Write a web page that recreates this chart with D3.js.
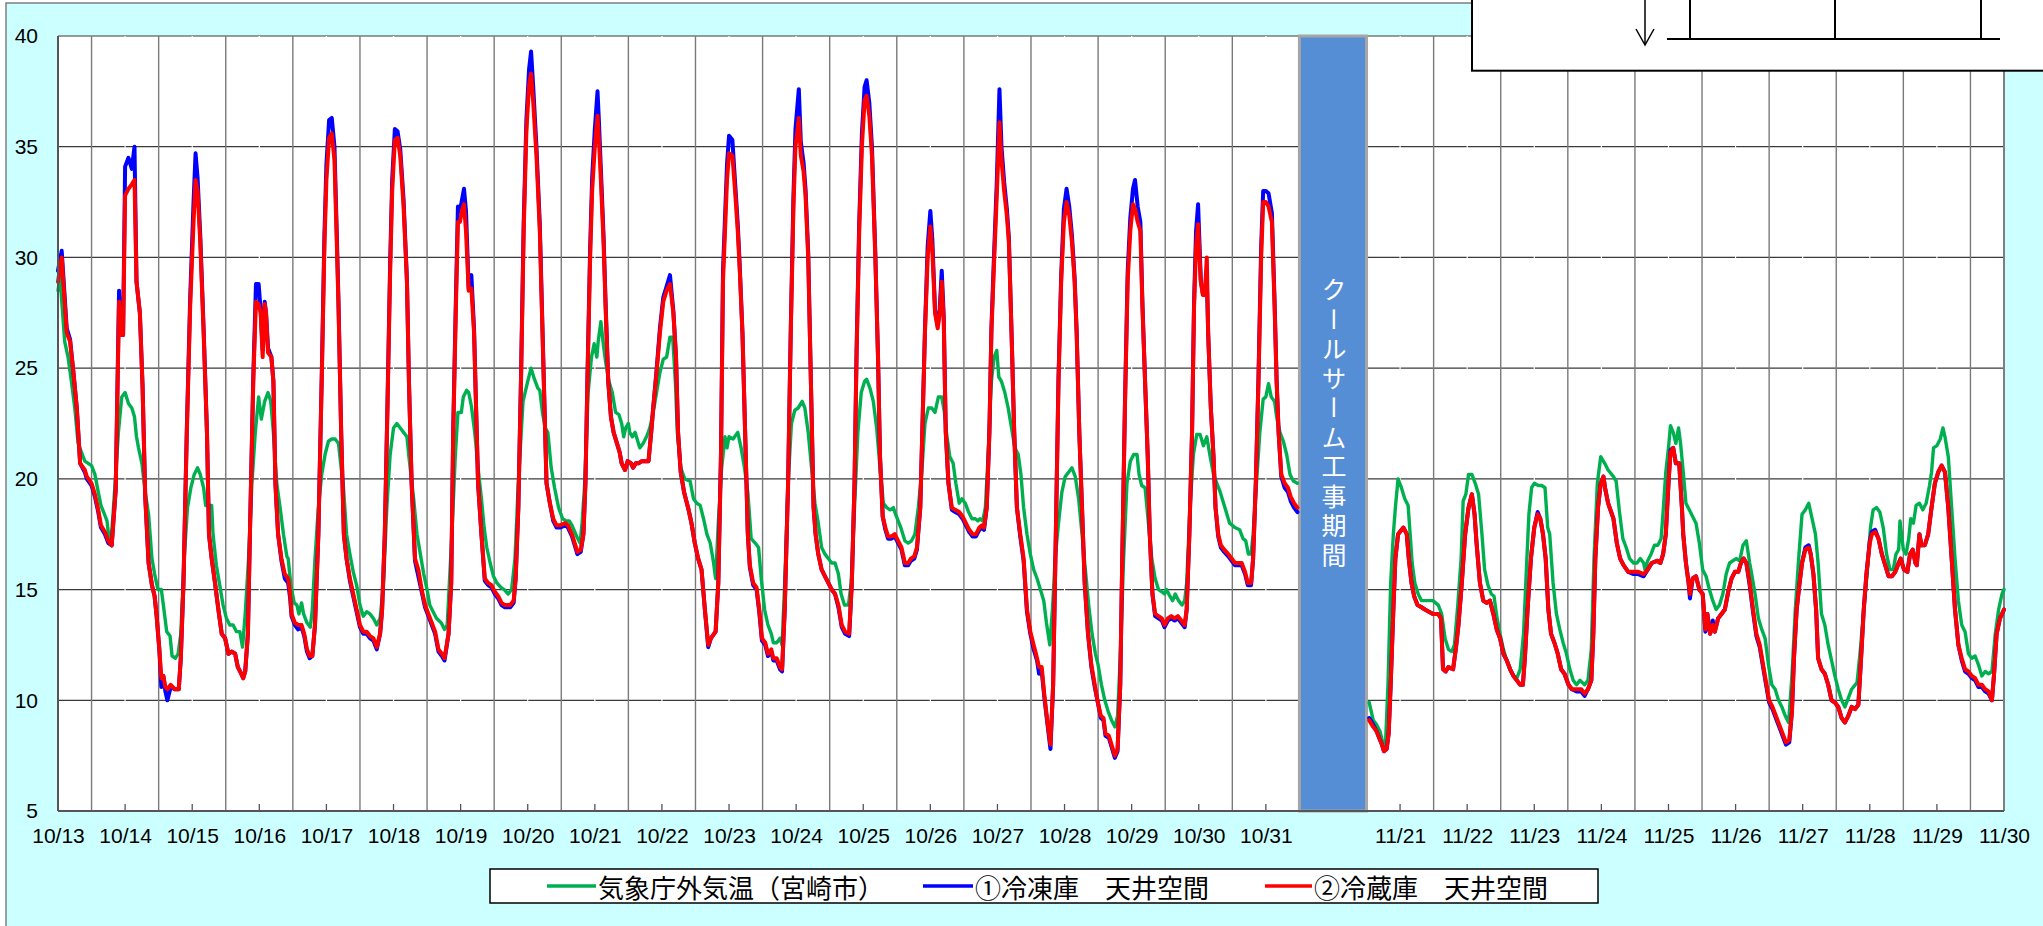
<!DOCTYPE html>
<html><head><meta charset="utf-8">
<script src="https://cdn.jsdelivr.net/npm/d3@7/dist/d3.min.js"></script>
<style>body{margin:0;background:#fff}svg{display:block}</style>
</head><body>
<svg id="chart" width="2043" height="926"></svg>
<script>
// ---- data ----
// axis slots: 0..18 = 10/13..10/31, slot 19 = construction gap, 20..29 = 11/21..11/30
const dateLabels = ["10/13","10/14","10/15","10/16","10/17","10/18","10/19","10/20","10/21","10/22","10/23","10/24","10/25","10/26","10/27","10/28","10/29","10/30","10/31","","11/21","11/22","11/23","11/24","11/25","11/26","11/27","11/28","11/29","11/30"];
const gapSlot = 19;
const gapLabel = "クールサーム工事期間";
const yTicks = [5,10,15,20,25,30,35,40];
const seriesNames = ["気象庁外気温（宮崎市）","①冷凍庫　天井空間","②冷蔵庫　天井空間"];
const seriesColors = ["#00B050","#0000FF","#FF0000"];

// outdoor temperature: [slot position, °C]
const outdoorTemp = [
[0.00,28.5],[0.03,29.1],[0.10,26.2],[0.15,25.5],[0.20,24.4],[0.25,23.2],[0.30,21.6],[0.35,21.2],[0.40,20.8],[0.45,20.7],[0.50,20.6],[0.55,20.2],[0.60,19.4],[0.64,18.8],[0.68,18.5],[0.73,18.1],[0.76,17.3],[0.79,17.2],[0.82,18.4],[0.86,20.2],[0.90,22.1],[0.95,23.7],[1.00,23.9],[1.05,23.4],[1.10,23.2],[1.14,22.8],[1.17,21.9],[1.20,21.4],[1.25,20.7],[1.30,19.4],[1.35,18.4],[1.40,16.4],[1.44,15.7],[1.49,15.0],[1.54,15.0],[1.57,14.3],[1.62,13.1],[1.67,12.9],[1.70,12.0],[1.75,11.9],[1.79,12.1],[1.83,13.0],[1.88,16.4],[1.93,18.7],[1.98,19.6],[2.03,20.2],[2.08,20.5],[2.12,20.2],[2.17,19.6],[2.20,18.8],[2.25,18.8],[2.29,18.8],[2.31,17.5],[2.36,16.1],[2.41,15.2],[2.46,14.3],[2.51,13.7],[2.56,13.4],[2.61,13.4],[2.66,13.1],[2.71,13.1],[2.75,12.4],[2.79,13.9],[2.84,16.4],[2.89,19.8],[2.94,22.1],[2.99,23.7],[3.03,22.7],[3.08,23.5],[3.13,23.9],[3.17,23.5],[3.21,22.1],[3.26,19.8],[3.31,18.7],[3.36,17.5],[3.41,16.5],[3.43,16.4],[3.47,15.2],[3.52,14.4],[3.56,14.3],[3.59,13.9],[3.63,14.4],[3.66,13.9],[3.71,13.5],[3.76,13.3],[3.79,14.1],[3.83,16.4],[3.88,18.7],[3.93,20.2],[3.98,21.1],[4.03,21.7],[4.08,21.8],[4.13,21.8],[4.18,21.6],[4.22,20.5],[4.25,19.8],[4.30,17.5],[4.35,16.6],[4.40,15.8],[4.45,15.2],[4.50,14.3],[4.55,13.8],[4.60,14.0],[4.65,13.9],[4.70,13.7],[4.75,13.4],[4.80,13.7],[4.85,15.2],[4.90,18.7],[4.95,21.1],[5.00,22.3],[5.05,22.5],[5.10,22.3],[5.15,22.1],[5.20,21.9],[5.23,21.0],[5.30,19.1],[5.35,17.5],[5.40,16.6],[5.45,15.7],[5.50,15.0],[5.54,14.3],[5.59,14.0],[5.64,13.7],[5.71,13.5],[5.76,13.2],
[5.80,13.4],[5.87,17.5],[5.92,21.0],[5.96,23.0],[6.01,23.0],[6.04,23.7],[6.09,24.0],[6.12,23.9],[6.16,23.3],[6.21,22.1],[6.26,20.5],[6.31,19.1],[6.35,17.8],[6.39,16.9],[6.44,16.2],[6.49,15.6],[6.54,15.3],[6.60,15.1],[6.65,15.0],[6.71,14.8],[6.76,15.0],[6.81,16.4],[6.86,19.8],[6.93,23.5],[7.00,24.4],[7.05,25.0],[7.10,24.5],[7.15,24.1],[7.18,24.0],[7.22,23.0],[7.26,22.3],[7.30,22.1],[7.35,20.5],[7.40,19.6],[7.46,18.7],[7.52,18.2],[7.57,18.1],[7.62,18.1],[7.66,17.9],[7.73,17.4],[7.78,17.1],[7.81,18.0],[7.85,19.8],[7.90,23.9],[7.95,25.5],[7.99,26.1],[8.03,25.5],[8.05,26.2],[8.09,27.1],[8.13,26.0],[8.16,25.3],[8.21,24.4],[8.26,23.9],[8.31,23.0],[8.36,22.9],[8.40,22.5],[8.43,21.9],[8.46,22.3],[8.50,22.5],[8.52,22.1],[8.56,21.9],[8.60,22.1],[8.64,21.7],[8.67,21.4],[8.72,21.6],[8.77,21.9],[8.82,22.3],[8.87,23.0],[8.92,23.9],[8.97,24.8],[9.02,25.4],[9.07,25.5],[9.12,26.4],[9.16,26.4],[9.20,24.4],[9.23,22.1],[9.28,20.5],[9.34,20.0],[9.42,19.9],[9.47,19.1],[9.52,18.9],[9.57,18.8],[9.62,18.2],[9.67,17.5],[9.72,17.1],[9.77,16.2],[9.80,15.5],[9.84,18.0],[9.89,20.5],[9.94,21.9],[9.97,21.4],[10.00,21.9],[10.06,21.8],[10.13,22.1],[10.18,21.4],[10.23,20.5],[10.28,19.4],[10.33,17.3],[10.39,17.1],[10.44,16.9],[10.48,15.5],[10.53,14.1],[10.58,13.4],[10.63,13.0],[10.66,12.6],[10.71,12.6],[10.76,12.8],[10.79,12.5],[10.83,15.3],[10.88,19.8],[10.93,22.5],[10.98,23.1],[11.03,23.2],[11.09,23.5],[11.13,23.2],[11.18,22.1],[11.23,20.5],[11.28,18.9],[11.33,18.0],[11.38,16.9],[11.43,16.6],[11.48,16.4],[11.53,16.2],
[11.58,16.2],[11.63,15.7],[11.67,14.8],[11.72,14.3],[11.78,14.3],[11.82,15.3],[11.87,18.7],[11.92,22.1],[11.97,23.9],[12.02,24.4],[12.05,24.5],[12.10,24.1],[12.15,23.5],[12.20,22.3],[12.25,20.5],[12.30,18.9],[12.35,18.7],[12.40,18.6],[12.45,18.7],[12.47,18.5],[12.52,18.1],[12.56,17.8],[12.62,17.2],[12.67,17.1],[12.72,17.2],[12.77,17.5],[12.82,18.7],[12.87,20.2],[12.92,22.5],[12.97,23.2],[13.02,23.2],[13.07,23.0],[13.12,23.7],[13.17,23.7],[13.21,23.0],[13.24,22.1],[13.29,21.0],[13.34,20.7],[13.38,19.8],[13.43,18.9],[13.47,19.1],[13.52,18.9],[13.57,18.5],[13.62,18.2],[13.67,18.2],[13.71,18.1],[13.74,18.2],[13.78,18.1],[13.82,18.7],[13.86,21.0],[13.91,24.4],[13.95,25.5],[13.99,25.8],[14.02,24.6],[14.06,24.4],[14.11,23.9],[14.16,23.2],[14.21,22.3],[14.26,21.4],[14.31,21.1],[14.35,20.2],[14.39,18.7],[14.44,17.5],[14.49,16.6],[14.54,15.9],[14.59,15.5],[14.64,15.0],[14.69,14.5],[14.73,13.5],[14.78,12.5],[14.82,14.1],[14.86,16.4],[14.91,18.0],[14.96,19.4],[15.01,20.1],[15.06,20.3],[15.11,20.5],[15.16,20.1],[15.21,19.1],[15.26,17.5],[15.31,15.9],[15.36,14.3],[15.41,13.0],[15.46,12.1],[15.50,11.6],[15.55,10.7],[15.60,10.0],[15.65,9.5],[15.70,9.1],[15.75,8.8],[15.79,9.3],[15.83,11.9],[15.88,16.4],[15.93,19.8],[15.98,20.8],[16.03,21.1],[16.08,21.1],[16.11,20.2],[16.15,19.7],[16.20,19.6],[16.25,18.0],[16.30,16.4],[16.35,15.5],[16.40,15.0],[16.45,14.9],[16.49,14.8],[16.52,15.0],[16.57,14.7],[16.61,14.5],[16.65,14.8],[16.70,14.5],[16.75,14.3],[16.79,14.5],[16.82,15.3],[16.87,18.7],[16.92,21.1],[16.97,22.0],[17.02,22.0],[17.07,21.5],[17.12,21.9],[17.17,21.0],[17.22,20.2],[17.27,19.8],[17.32,19.4],[17.37,18.9],
[17.46,18.0],[17.54,17.8],[17.61,17.7],[17.66,17.3],[17.70,17.2],[17.74,16.6],[17.78,16.6],[17.81,17.5],[17.86,19.8],[17.91,22.1],[17.96,23.6],[18.00,23.7],[18.04,24.3],[18.08,23.7],[18.13,23.5],[18.16,22.8],[18.21,22.1],[18.26,21.7],[18.31,21.1],[18.36,20.2],[18.41,19.9],[18.47,19.8],
[19.54,9.9],[19.60,9.1],[19.65,8.9],[19.70,8.6],[19.75,8.0],[19.78,7.8],[19.82,10.7],[19.86,15.3],[19.90,17.5],[19.93,18.7],[19.97,20.0],[20.02,19.6],[20.07,19.1],[20.12,18.8],[20.15,17.5],[20.18,16.2],[20.22,15.3],[20.27,14.8],[20.32,14.5],[20.40,14.5],[20.49,14.5],[20.57,14.3],[20.62,13.9],[20.67,12.8],[20.72,12.3],[20.77,12.2],[20.81,12.5],[20.86,14.3],[20.91,16.4],[20.94,19.0],[20.98,19.3],[21.02,20.2],[21.07,20.2],[21.12,19.8],[21.17,19.3],[21.22,17.5],[21.26,15.9],[21.31,15.2],[21.36,14.8],[21.40,14.7],[21.44,13.8],[21.49,13.0],[21.54,12.3],[21.59,11.8],[21.64,11.4],[21.69,11.1],[21.74,11.0],[21.79,11.4],[21.84,13.0],[21.89,16.4],[21.92,18.4],[21.96,19.6],[22.00,19.8],[22.06,19.7],[22.11,19.7],[22.16,19.6],[22.20,17.8],[22.23,17.5],[22.28,15.3],[22.33,13.9],[22.38,13.2],[22.43,12.6],[22.48,12.1],[22.53,11.4],[22.58,10.9],[22.63,10.7],[22.68,10.9],[22.75,10.7],[22.80,10.9],[22.85,12.3],[22.89,16.4],[22.94,19.8],[22.99,21.0],[23.05,20.7],[23.10,20.4],
[23.18,20.1],[23.22,19.9],[23.27,18.5],[23.32,17.3],[23.37,16.9],[23.42,16.4],[23.48,16.2],[23.53,16.2],[23.58,16.4],[23.63,16.2],[23.65,15.9],[23.69,16.3],[23.74,16.6],[23.79,17.0],[23.84,17.0],[23.89,17.3],[23.92,18.5],[23.96,20.3],[24.00,21.4],[24.03,22.4],[24.07,22.1],[24.11,21.6],[24.15,22.3],[24.18,21.6],[24.22,20.3],[24.26,18.9],[24.31,18.6],[24.36,18.3],[24.41,18.0],[24.46,17.1],[24.51,15.9],[24.56,15.6],[24.61,15.0],[24.66,14.5],[24.71,14.1],[24.76,14.3],[24.81,14.8],[24.86,15.7],[24.91,16.2],[24.96,16.3],[25.01,16.4],[25.06,16.3],[25.11,17.0],[25.16,17.2],[25.21,16.2],[25.24,15.7],[25.29,14.8],[25.34,13.7],[25.39,13.2],[25.44,12.8],[25.49,11.6],[25.54,10.7],[25.59,10.5],[25.64,10.0],[25.69,9.7],[25.74,9.3],[25.79,9.0],[25.84,11.1],[25.89,14.1],[25.94,16.4],[25.99,18.4],[26.04,18.6],[26.09,18.9],[26.14,18.2],[26.19,17.5],[26.23,16.2],[26.28,13.9],[26.33,13.4],[26.38,12.5],[26.43,11.8],[26.48,11.1],[26.53,10.5],[26.58,10.0],[26.63,9.7],[26.68,10.1],[26.73,10.5],[26.81,10.8],[26.86,12.3],[26.91,14.1],[26.96,15.7],[27.01,17.8],[27.05,18.6],[27.10,18.7],[27.15,18.5],[27.20,17.8],[27.25,16.6],[27.30,15.9],[27.35,15.9],[27.39,16.6],[27.43,16.8],[27.45,18.1],[27.50,16.8],[27.54,16.6],[27.58,17.3],[27.61,18.2],[27.65,18.0],[27.69,18.8],[27.74,18.9],[27.79,18.6],[27.84,18.9],[27.89,19.7],[27.92,20.3],[27.95,21.4],[28.00,21.5],[28.05,21.8],[28.09,22.3],[28.12,21.9],[28.17,21.0],[28.22,18.7],[28.27,16.4],[28.32,14.5],[28.37,13.4],[28.42,13.1],[28.47,12.1],[28.52,11.9],[28.57,12.0],[28.62,11.6],[28.67,11.1],[28.72,11.3],[28.77,11.2],[28.82,11.3],[28.87,13.0],[28.92,14.1],[28.97,14.8],[29.00,15.0]
];

// ceiling-space temperatures: [slot position, ①freezer °C, ②fridge °C]
const ceilingTemp = [
[0.00,29.4,28.9],[0.055,30.3,30.0],[0.13,26.8,26.6],[0.18,26.3,26.2],[0.23,24.8,24.8],[0.28,23.2,23.2],[0.33,20.7,20.7],[0.40,20.3,20.4],[0.43,20.0,20.1],[0.50,19.7,19.8],[0.55,19.2,19.3],[0.60,18.5,18.6],[0.64,17.8,17.9],[0.70,17.5,17.6],[0.75,17.1,17.2],[0.80,17.0,17.0],[0.86,19.5,19.5],[0.91,28.5,28.0],[0.94,26.5,26.5],[0.97,26.5,26.5],[1.00,34.1,32.8],[1.05,34.5,33.1],[1.10,34.0,33.3],[1.14,35.0,33.5],[1.17,28.9,28.9],[1.22,27.5,27.5],[1.26,24.2,24.2],[1.30,19.2,19.2],[1.35,16.2,16.2],[1.40,15.2,15.2],[1.44,14.7,14.7],[1.47,13.8,13.8],[1.51,12.3,12.3],[1.54,10.6,11.0],[1.57,11.1,11.1],[1.60,10.4,10.6],[1.63,10.0,10.5],[1.68,10.6,10.7],[1.74,10.5,10.5],[1.80,10.5,10.5],[1.83,11.9,11.9],[1.87,15.3,15.3],[1.92,22.3,22.1],[1.97,28.2,27.8],[2.02,32.5,31.6],[2.05,34.7,33.5],[2.08,33.6,33.0],[2.12,31.0,30.7],[2.17,26.8,26.6],[2.22,22.1,22.1],[2.25,17.5,17.5],[2.29,16.4,16.4],[2.34,15.3,15.3],[2.39,14.1,14.1],[2.44,13.0,13.0],[2.49,12.8,12.8],[2.54,12.1,12.1],[2.59,12.2,12.2],[2.64,12.1,12.1],[2.68,11.5,11.5],[2.73,11.2,11.2],[2.76,11.0,11.0],[2.79,11.3,11.3],[2.83,13.0,13.0],[2.86,17.5,17.5],[2.91,24.6,24.4],[2.95,28.8,28.0],[2.99,28.8,27.9],[3.02,27.6,27.5],[3.05,25.8,25.5],[3.08,28.0,27.9],[3.10,27.5,27.5],[3.13,25.9,25.7],[3.18,25.5,25.5],[3.21,24.4,24.4],[3.24,19.8,19.8],[3.28,17.5,17.5],[3.33,16.3,16.4],[3.38,15.5,15.7],[3.43,15.3,15.5],[3.46,14.6,14.8],[3.48,13.8,13.9],[3.53,13.4,13.5],[3.58,13.2,13.4],[3.63,13.3,13.4],[3.67,12.9,13.0],[3.71,12.2,12.3],[3.75,11.9,12.0],[3.79,12.0,12.0],[3.83,13.4,13.4],[3.88,17.5,17.5],[3.93,24.6,24.4],[3.97,31.0,30.5],[4.00,34.2,33.5],[4.04,36.2,35.4],[4.08,36.3,35.6],[4.12,35.0,34.4],[4.15,31.6,31.2],[4.18,28.0,27.8],[4.22,22.1,22.1],[4.26,17.5,17.5],[4.30,16.4,16.4],[4.35,15.4,15.5],[4.40,14.7,14.8],[4.45,14.0,14.1],[4.50,13.3,13.4],[4.55,13.0,13.1],[4.60,13.0,13.1],[4.65,12.8,12.9],[4.70,12.7,12.8],[4.75,12.3,12.4],[4.80,13.0,13.0],[4.83,14.1,14.1],[4.87,17.5,17.5],[4.91,23.4,23.2],[4.95,29.8,29.4],[4.98,33.5,33.0],[5.02,35.8,35.3],[5.06,35.7,35.4],[5.10,34.9,34.6],[5.15,32.6,32.3],[5.20,29.0,28.9],[5.23,24.4,24.4],[5.27,19.8,19.8],[5.32,16.3,16.4],[5.37,15.6,15.9],[5.42,14.9,15.0],[5.47,14.2,14.3],[5.52,13.8,13.9],[5.57,13.4,13.5],[5.62,13.0,13.1],[5.67,12.2,12.3],[5.72,12.0,12.1],[5.76,11.8,11.9],
[5.82,13.0,13.0],[5.86,15.3,15.3],[5.89,22.3,22.1],[5.93,28.2,27.8],[5.96,32.3,31.6],[5.99,32.1,31.6],[6.02,32.6,32.1],[6.05,33.1,32.4],[6.08,32.1,31.2],[6.12,28.6,28.5],[6.16,29.2,28.6],[6.20,26.8,26.6],[6.24,22.1,22.1],[6.26,19.8,19.8],[6.31,17.5,17.5],[6.36,15.4,15.5],[6.41,15.2,15.3],[6.46,15.1,15.2],[6.51,14.8,14.9],[6.56,14.6,14.7],[6.61,14.3,14.4],[6.66,14.2,14.3],[6.74,14.2,14.3],[6.79,14.4,14.5],[6.82,15.5,15.5],[6.86,18.7,18.7],[6.90,24.6,24.4],[6.94,31.6,31.2],[6.98,36.2,35.7],[7.02,38.5,37.8],[7.05,39.3,38.3],[7.08,37.8,37.1],[7.13,35.0,34.6],[7.18,31.5,31.2],[7.22,26.8,26.6],[7.26,22.1,22.1],[7.28,19.8,19.8],[7.33,18.9,18.9],[7.38,18.1,18.2],[7.43,17.8,17.9],[7.48,17.8,17.9],[7.56,17.9,18.0],[7.60,17.8,17.9],[7.66,17.4,17.5],[7.70,17.0,17.1],[7.74,16.6,16.7],[7.79,16.7,16.8],[7.83,17.5,17.5],[7.86,19.8,19.8],[7.89,24.6,24.4],[7.93,30.4,30.0],[7.96,33.6,33.0],[8.00,35.8,35.0],[8.04,37.5,36.4],[8.06,36.2,35.4],[8.09,34.0,33.5],[8.13,31.0,30.7],[8.16,28.0,27.8],[8.20,24.4,24.4],[8.24,22.8,22.8],[8.28,22.1,22.1],[8.33,21.6,21.6],[8.37,21.2,21.2],[8.40,20.7,20.7],[8.45,20.4,20.4],[8.49,20.8,20.8],[8.54,20.7,20.7],[8.57,20.5,20.5],[8.61,20.7,20.7],[8.65,20.7,20.7],[8.70,20.8,20.8],[8.74,20.8,20.8],[8.80,20.8,20.8],[8.84,22.1,22.1],[8.87,23.2,23.2],[8.92,24.9,24.8],[8.97,26.8,26.6],[9.02,28.2,28.0],[9.07,28.7,28.5],[9.12,29.2,28.8],[9.17,27.6,27.5],[9.21,25.5,25.5],[9.24,22.1,22.1],[9.28,20.3,20.3],[9.33,19.4,19.4],[9.39,18.7,18.7],[9.44,18.0,18.0],[9.49,17.1,17.1],[9.54,16.4,16.4],[9.59,15.9,15.9],[9.64,14.1,14.1],[9.69,12.4,12.5],[9.73,12.8,12.8],[9.80,13.1,13.1],[9.84,15.3,15.3],[9.88,21.2,21.0],[9.91,29.4,28.9],[9.97,34.2,33.5],[10.00,35.5,34.7],[10.05,35.3,34.6],[10.09,33.4,33.0],[10.13,31.5,31.2],[10.16,29.6,29.4],[10.20,26.6,26.6],[10.24,22.1,22.1],[10.28,17.5,17.5],[10.31,16.0,16.1],[10.36,15.2,15.3],[10.41,15.0,15.1],[10.45,14.0,14.1],[10.49,12.7,12.8],[10.54,12.5,12.6],[10.58,12.0,12.1],[10.63,12.2,12.3],[10.66,11.8,11.9],[10.71,11.8,11.9],[10.76,11.4,11.5],[10.79,11.3,11.4],[10.83,14.1,14.1],[10.88,19.8,19.8],[10.92,26.8,26.6],[10.96,32.8,32.3],[10.99,35.8,35.0],[11.04,37.6,36.3],[11.07,35.2,34.6],[11.11,34.3,33.9],[11.14,33.1,32.8],[11.18,30.2,30.0],[11.22,24.4,24.4],[11.26,18.7,18.7],[11.29,17.5,17.5],[11.33,16.6,16.6],[11.38,15.9,15.9],[11.43,15.6,15.6],[11.48,15.3,15.3],[11.53,15.0,15.0],[11.58,14.8,14.8],
[11.63,14.2,14.3],[11.68,13.3,13.4],[11.73,13.0,13.1],[11.79,12.9,13.0],[11.83,15.3,15.3],[11.87,19.8,19.8],[11.90,25.7,25.5],[11.94,31.6,31.2],[11.98,35.6,35.0],[12.02,37.7,37.1],[12.05,38.0,37.3],[12.09,37.0,36.4],[12.13,35.0,34.6],[12.18,30.2,30.0],[12.22,25.5,25.5],[12.25,21.0,21.0],[12.29,18.3,18.3],[12.33,17.7,17.8],[12.37,17.3,17.4],[12.42,17.3,17.4],[12.47,17.4,17.5],[12.52,17.1,17.2],[12.57,16.8,16.9],[12.62,16.1,16.2],[12.67,16.1,16.2],[12.71,16.3,16.4],[12.76,16.4,16.5],[12.80,16.8,16.9],[12.85,18.7,18.7],[12.88,22.1,22.1],[12.92,26.8,26.6],[12.96,30.5,30.0],[13.00,32.1,31.4],[13.03,30.8,30.3],[13.07,27.6,27.5],[13.11,26.9,26.8],[13.14,27.7,27.5],[13.17,29.4,28.9],[13.20,27.3,27.1],[13.23,22.1,22.1],[13.27,19.8,19.8],[13.32,18.6,18.7],[13.37,18.5,18.6],[13.43,18.4,18.5],[13.48,18.2,18.3],[13.53,17.9,18.0],[13.58,17.6,17.7],[13.63,17.4,17.5],[13.68,17.4,17.5],[13.73,17.7,17.8],[13.77,17.8,17.9],[13.80,17.7,17.8],[13.84,18.7,18.7],[13.88,22.1,22.1],[13.91,26.8,26.6],[13.95,30.2,29.8],[13.99,33.4,32.8],[14.03,37.6,36.1],[14.06,35.0,34.4],[14.10,33.4,33.0],[14.14,32.2,31.9],[14.17,30.9,30.7],[14.21,26.6,26.6],[14.25,22.1,22.1],[14.29,18.7,18.7],[14.34,17.4,17.5],[14.39,16.3,16.4],[14.44,14.0,14.1],[14.49,13.0,13.1],[14.54,12.3,12.5],[14.59,11.8,11.9],[14.62,11.2,11.5],[14.66,11.3,11.5],[14.70,10.1,10.2],[14.75,8.8,8.9],[14.79,7.8,8.0],[14.83,10.7,10.7],[14.87,17.5,17.5],[14.91,24.6,24.4],[14.95,29.2,28.9],[14.99,32.2,31.6],[15.03,33.1,32.5],[15.07,32.3,31.9],[15.11,31.0,30.7],[15.15,29.1,28.9],[15.18,26.7,26.6],[15.22,22.1,22.1],[15.26,18.7,18.7],[15.30,15.3,15.3],[15.35,13.0,13.0],[15.40,11.5,11.6],[15.45,10.6,10.7],[15.49,10.0,10.0],[15.54,9.2,9.3],[15.58,9.1,9.2],[15.61,8.4,8.5],[15.66,8.3,8.4],[15.70,7.9,8.0],[15.75,7.4,7.5],[15.79,7.7,7.8],[15.83,10.7,10.7],[15.86,16.4,16.4],[15.90,23.4,23.2],[15.94,29.3,28.9],[15.98,31.8,31.2],[16.02,33.1,32.4],[16.05,33.5,32.2],[16.09,32.3,31.6],[16.13,31.6,31.2],[16.16,28.0,27.8],[16.20,24.4,24.4],[16.24,21.0,21.0],[16.27,17.5,17.5],[16.31,14.8,14.8],[16.35,13.8,13.9],[16.40,13.7,13.8],[16.45,13.6,13.7],[16.49,13.3,13.4],[16.54,13.6,13.7],[16.59,13.7,13.8],[16.64,13.6,13.7],[16.69,13.7,13.8],[16.74,13.5,13.6],[16.79,13.3,13.4],[16.82,14.1,14.1],[16.86,17.5,17.5],[16.90,22.1,22.1],[16.93,28.0,27.8],[16.96,31.2,30.5],[16.99,32.4,31.5],[17.03,29.0,28.9],[17.06,28.4,28.3],[17.09,28.4,28.3],[17.12,29.0,30.0],[17.14,26.6,26.6],[17.18,23.2,23.2],[17.22,21.0,21.0],[17.25,18.7,18.7],[17.29,17.4,17.5],[17.33,16.9,17.0],[17.38,16.7,16.8],[17.44,16.5,16.6],[17.49,16.3,16.4],
[17.54,16.1,16.2],[17.59,16.1,16.2],[17.64,16.1,16.2],[17.69,15.7,15.8],[17.73,15.2,15.3],[17.78,15.2,15.3],[17.81,16.4,16.4],[17.85,19.8,19.8],[17.89,24.6,24.4],[17.93,30.5,30.0],[17.96,33.0,32.5],[18.00,33.0,32.5],[18.04,32.9,32.3],[18.09,32.0,31.6],[18.13,28.0,27.8],[18.16,24.5,24.4],[18.19,22.1,22.1],[18.23,20.1,20.2],[18.28,19.6,19.8],[18.33,19.4,19.6],[18.37,19.0,19.2],[18.42,18.7,18.9],[18.47,18.5,18.7],
[19.54,9.2,9.1],[19.60,8.9,8.8],[19.65,8.6,8.6],[19.69,8.3,8.3],[19.73,8.0,8.0],[19.76,7.7,7.7],[19.80,7.8,7.8],[19.83,8.5,8.5],[19.86,10.7,10.7],[19.90,14.1,14.1],[19.93,16.4,16.4],[19.97,17.5,17.5],[20.05,17.8,17.8],[20.10,17.5,17.5],[20.13,16.4,16.4],[20.17,15.3,15.3],[20.21,14.7,14.7],[20.26,14.3,14.3],[20.32,14.2,14.2],[20.37,14.1,14.1],[20.43,14.0,14.0],[20.49,13.9,13.9],[20.57,13.9,13.9],[20.61,13.7,13.7],[20.64,11.4,11.4],[20.68,11.3,11.3],[20.72,11.5,11.5],[20.79,11.4,11.4],[20.83,12.3,12.3],[20.87,13.4,13.4],[20.92,15.3,15.3],[20.97,17.5,17.5],[21.02,18.7,18.7],[21.07,19.3,19.3],[21.11,18.4,18.4],[21.14,17.1,17.1],[21.19,15.3,15.3],[21.24,14.5,14.5],[21.29,14.4,14.4],[21.34,14.5,14.5],[21.39,13.9,13.9],[21.44,13.2,13.2],[21.49,12.8,12.8],[21.54,12.1,12.1],[21.59,11.8,11.8],[21.64,11.4,11.4],[21.69,11.1,11.1],[21.74,10.9,10.9],[21.79,10.7,10.7],[21.83,10.7,10.7],[21.86,11.9,11.9],[21.90,14.1,14.1],[21.95,16.4,16.4],[22.00,17.8,17.8],[22.05,18.5,18.4],[22.09,18.2,18.2],[22.13,17.5,17.5],[22.17,16.4,16.4],[22.21,14.1,14.1],[22.25,13.0,13.0],[22.30,12.6,12.6],[22.35,12.1,12.1],[22.40,11.4,11.4],[22.45,11.2,11.2],[22.51,10.7,10.7],[22.56,10.5,10.5],[22.63,10.4,10.5],[22.70,10.4,10.5],[22.75,10.2,10.3],[22.80,10.5,10.5],[22.85,10.9,10.9],[22.88,13.0,13.0],[22.91,16.4,16.4],[22.95,18.7,18.7],[22.99,19.8,19.8],[23.03,20.1,20.1],[23.06,19.5,19.5],[23.10,18.9,18.9],
[23.18,18.2,18.2],[23.23,17.1,17.1],[23.28,16.4,16.4],[23.33,16.1,16.1],[23.40,15.8,15.8],[23.48,15.7,15.8],[23.55,15.7,15.8],[23.63,15.6,15.7],[23.69,15.9,15.9],[23.75,16.2,16.2],[23.83,16.3,16.3],[23.88,16.2,16.2],[23.92,16.6,16.6],[23.96,17.5,17.5],[24.00,19.8,19.8],[24.03,21.3,21.2],[24.07,21.4,21.4],[24.11,20.7,20.7],[24.16,20.7,20.7],[24.20,18.7,18.7],[24.22,17.5,17.5],[24.26,16.2,16.2],[24.30,15.3,15.3],[24.32,14.6,14.8],[24.36,15.5,15.5],[24.41,15.6,15.6],[24.46,15.0,15.0],[24.51,14.8,14.8],[24.55,13.1,13.2],[24.58,13.9,13.9],[24.62,13.0,13.0],[24.66,13.6,13.4],[24.69,13.1,13.1],[24.74,13.7,13.7],[24.79,13.9,13.9],[24.84,14.1,14.1],[24.89,14.9,14.9],[24.94,15.5,15.5],[24.99,15.8,15.8],[25.04,15.8,15.8],[25.08,16.2,16.2],[25.12,16.4,16.4],[25.16,16.2,16.2],[25.21,15.2,15.3],[25.26,14.0,14.1],[25.31,12.9,13.0],[25.36,12.4,12.5],[25.41,11.5,11.6],[25.46,10.6,10.7],[25.50,9.9,10.0],[25.55,9.6,9.7],[25.60,9.2,9.3],[25.65,8.8,8.9],[25.70,8.4,8.5],[25.75,8.0,8.1],[25.80,8.1,8.2],[25.84,9.5,9.5],[25.87,11.9,11.9],[25.91,14.1,14.1],[25.95,15.2,15.2],[25.99,16.2,16.2],[26.04,16.9,16.8],[26.09,17.0,16.9],[26.12,16.6,16.6],[26.16,15.7,15.7],[26.20,14.1,14.1],[26.23,11.9,11.9],[26.28,11.4,11.4],[26.33,11.2,11.2],[26.38,10.7,10.7],[26.43,10.0,10.0],[26.48,9.9,9.9],[26.53,9.7,9.7],[26.58,9.2,9.2],[26.63,9.0,9.0],[26.68,9.3,9.3],[26.73,9.7,9.7],[26.78,9.6,9.6],[26.83,9.8,9.8],[26.87,11.9,11.9],[26.91,14.1,14.1],[26.95,15.7,15.7],[27.00,17.2,17.1],[27.03,17.6,17.5],[27.08,17.7,17.6],[27.13,17.3,17.3],[27.18,16.6,16.6],[27.23,16.1,16.1],[27.28,15.6,15.6],[27.33,15.6,15.6],[27.38,15.8,15.8],[27.43,16.2,16.2],[27.46,16.4,16.4],[27.51,15.9,15.9],[27.56,15.8,15.8],[27.60,16.6,16.6],[27.64,16.8,16.8],[27.68,16.2,16.2],[27.70,16.1,16.1],[27.74,17.5,17.5],[27.77,17.0,17.0],[27.82,17.0,17.0],[27.87,17.5,17.5],[27.92,18.7,18.7],[27.97,19.8,19.8],[28.02,20.3,20.3],[28.07,20.6,20.6],[28.12,20.3,20.3],[28.17,18.7,18.7],[28.22,16.4,16.4],[28.27,14.1,14.1],[28.32,12.5,12.5],[28.37,11.8,11.9],[28.42,11.3,11.4],[28.47,11.2,11.3],[28.52,11.0,11.1],[28.57,10.9,11.0],[28.62,10.6,10.7],[28.67,10.6,10.7],[28.72,10.4,10.5],[28.77,10.3,10.4],[28.82,10.0,10.0],[28.85,11.1,11.1],[28.89,13.0,13.0],[28.94,13.7,13.7],[29.00,14.1,14.1]
];

// ---- drawing ----
const svg = d3.select("#chart");
const W = 2043, H = 926;
const plot = {left:58, right:2004, top:36, bottom:811};
const x = d3.scaleLinear().domain([0, dateLabels.length - 1]).range([plot.left, plot.right]);
const y = d3.scaleLinear().domain([5, 40]).range([plot.bottom, plot.top]);

// page & chart area
svg.append("rect").attr("width", W).attr("height", H).attr("fill", "#fff");
svg.append("rect").attr("x", 6).attr("y", 3).attr("width", W + 20).attr("height", H + 20)
  .attr("fill", "#CCFFFF").attr("stroke", "#7f7f7f").attr("stroke-width", 1.5);
svg.append("rect").attr("x", plot.left).attr("y", plot.top)
  .attr("width", plot.right - plot.left).attr("height", plot.bottom - plot.top).attr("fill", "#fff");

const slots = d3.range(dateLabels.length);
const majorX = slots.slice(0, -1).map(i => i + 0.5).filter(v => v !== gapSlot - 0.5 && v !== gapSlot + 0.5);
const minorX = slots.filter(i => i !== 0 && i !== gapSlot && i !== dateLabels.length - 1);

const grid = svg.append("g");
grid.selectAll(".hg").data(yTicks.filter(v => v > 5)).join("line")
  .attr("x1", plot.left).attr("x2", plot.right).attr("y1", d => y(d)).attr("y2", d => y(d))
  .attr("stroke", "#3a3a3a").attr("stroke-width", 1.2);
grid.selectAll(".vg").data(majorX).join("line")
  .attr("x1", d => x(d)).attr("x2", d => x(d)).attr("y1", plot.top).attr("y2", plot.bottom)
  .attr("stroke", "#7a7a7a").attr("stroke-width", 1.4);
// white minor grid lines (break the horizontal lines)
grid.selectAll(".mg").data(minorX).join("line")
  .attr("x1", d => x(d)).attr("x2", d => x(d)).attr("y1", plot.top).attr("y2", plot.bottom)
  .attr("stroke", "#fff").attr("stroke-width", 1.2);

// construction gap band
svg.append("rect").attr("x", x(gapSlot - 0.5)).attr("y", plot.top)
  .attr("width", x(gapSlot + 0.5) - x(gapSlot - 0.5)).attr("height", plot.bottom - plot.top)
  .attr("fill", "#558ED5").attr("stroke", "#a6a6a6").attr("stroke-width", 3);
svg.append("text").attr("x", x(gapSlot) + 1).attr("y", 277)
  .style("writing-mode", "vertical-rl").style("text-orientation", "upright")
  .attr("font-family", "'Noto Sans CJK JP', sans-serif").attr("font-size", 25)
  .attr("letter-spacing", 4.5).attr("fill", "#fff").text(gapLabel);

// axes lines and ticks
svg.append("line").attr("x1", plot.right).attr("x2", plot.right).attr("y1", plot.top).attr("y2", plot.bottom)
  .attr("stroke", "#7f7f7f").attr("stroke-width", 2);
svg.append("g").selectAll("line").data(minorX).join("line")
  .attr("x1", d => x(d)).attr("x2", d => x(d)).attr("y1", plot.bottom).attr("y2", plot.bottom - 7)
  .attr("stroke", "#555").attr("stroke-width", 1.3);

// series lines
const line = d3.line().x(d => x(d[0])).y(d => y(d[1])).curve(d3.curveLinear);
const panels = [p => p < gapSlot, p => p > gapSlot];
const seriesData = [
  outdoorTemp.map(r => [r[0], r[1]]),
  ceilingTemp.map(r => [r[0], r[1]]),
  ceilingTemp.map(r => [r[0], r[2]])
];
const widths = [3.4, 4, 4];
const lines = svg.append("g").attr("fill", "none").attr("stroke-linejoin", "round").attr("stroke-linecap", "round");
seriesData.forEach((s, i) => {
  panels.forEach(f => {
    lines.append("path").attr("d", line(s.filter(r => f(r[0]))))
      .attr("stroke", seriesColors[i]).attr("stroke-width", widths[i]);
  });
});

// axis lines over data edges
svg.append("line").attr("x1", plot.left).attr("x2", plot.left).attr("y1", plot.top).attr("y2", plot.bottom)
  .attr("stroke", "#555").attr("stroke-width", 2);
svg.append("line").attr("x1", plot.left).attr("x2", plot.right).attr("y1", plot.bottom).attr("y2", plot.bottom)
  .attr("stroke", "#555").attr("stroke-width", 2.2);

// axis labels through d3 axes
const yAxis = svg.append("g").attr("transform", `translate(${plot.left},0)`)
  .call(d3.axisLeft(y).tickValues(yTicks).tickSize(0).tickPadding(20).tickFormat(d3.format("d")));
yAxis.select(".domain").remove();
yAxis.selectAll("text").attr("font-family", "'Liberation Sans', Arial, sans-serif").attr("font-size", 21).attr("fill", "#000");

const xAxis = svg.append("g").attr("transform", `translate(0,${plot.bottom})`)
  .call(d3.axisBottom(x).tickValues(slots.filter(i => dateLabels[i] !== "")).tickSize(0).tickFormat(i => dateLabels[i]));
xAxis.select(".domain").remove();
xAxis.selectAll("text").attr("y", 32).attr("dy", 0)
  .attr("font-family", "'Liberation Sans', Arial, sans-serif").attr("font-size", 21).attr("fill", "#000");

// legend
const lg = svg.append("g");
lg.append("rect").attr("x", 490).attr("y", 869).attr("width", 1108).attr("height", 34)
  .attr("fill", "#fff").attr("stroke", "#000").attr("stroke-width", 1.5);
const legendPos = [[547, 598], [923, 975], [1265, 1314]];
seriesNames.forEach((n, i) => {
  lg.append("line").attr("x1", legendPos[i][0]).attr("x2", legendPos[i][1] - 2).attr("y1", 886).attr("y2", 886)
    .attr("stroke", seriesColors[i]).attr("stroke-width", 3.5);
  lg.append("text").attr("x", legendPos[i][1]).attr("y", 886).attr("dominant-baseline", "central")
    .attr("font-family", "'Noto Sans CJK JP', sans-serif").attr("font-size", 26).attr("fill", "#000").text(n);
});

// top-right annotation box (partially cut off)
const tb = svg.append("g");
tb.append("rect").attr("x", 1472).attr("y", -10).attr("width", 620).attr("height", 80.7)
  .attr("fill", "#fff").attr("stroke", "#000").attr("stroke-width", 2);
tb.append("line").attr("x1", 1645).attr("x2", 1645).attr("y1", 0).attr("y2", 45).attr("stroke", "#000").attr("stroke-width", 1.5);
tb.append("path").attr("d", "M1636,29 L1645,45 L1654,29").attr("fill", "none").attr("stroke", "#000").attr("stroke-width", 1.5);
tb.append("line").attr("x1", 1667).attr("x2", 2000).attr("y1", 39).attr("y2", 39).attr("stroke", "#000").attr("stroke-width", 2);
[1690, 1835, 1981].forEach(v => tb.append("line").attr("x1", v).attr("x2", v).attr("y1", 0).attr("y2", 39)
  .attr("stroke", "#000").attr("stroke-width", 2));
</script>
</body></html>
